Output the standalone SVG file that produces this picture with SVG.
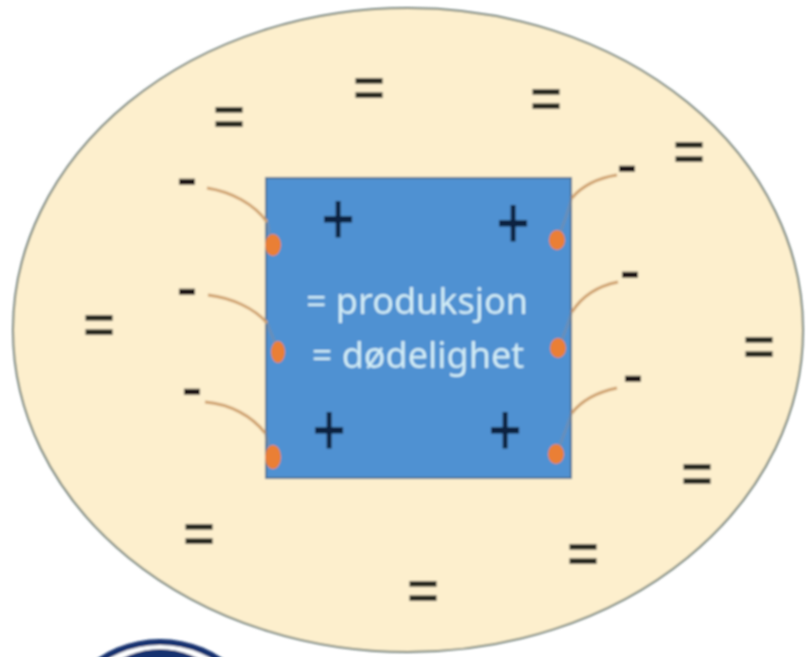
<svg xmlns="http://www.w3.org/2000/svg" width="806" height="657" viewBox="0 0 806 657">
<defs>
<filter id="soft" x="-5%" y="-5%" width="110%" height="110%"><feGaussianBlur stdDeviation="0.8"/></filter>
</defs>
<style>
text{font-family:"Liberation Sans",Arial,sans-serif;text-anchor:middle}
.eq{font-size:54px;font-weight:bold;fill:#2a2a22}
.minus{font-size:60px;fill:#1c1712;stroke:#1c1712;stroke-width:1.4}
.plus{font-size:56px;fill:#0b2140;stroke:#0b2140;stroke-width:.8}
.label{font-family:"Noto Sans","Open Sans",sans-serif;font-size:36px;fill:#d2edf6}
.wire{fill:none;stroke:#cfa26f;stroke-width:3}
.inner{fill:none;stroke:#b58a70;stroke-width:3;opacity:.25}
.dot{fill:#ea7f35}
</style>
<rect width="806" height="657" fill="#fff"/>
<g filter="url(#soft)">
<g id="cell-outer">
<ellipse cx="408" cy="330" rx="395" ry="322" fill="#fdefcd" stroke="#6f7f78" stroke-width="2"/>
</g>
<g id="cell-inner">
<rect x="266" y="178" width="305" height="300" fill="#5091d2" stroke="#4a7193" stroke-width="2"/>
<text class="label" x="417" y="314">= produksjon</text>
<text class="label" x="418" y="368">= dødelighet</text>
</g>
<g id="connectors">
<path class="wire" d="M207 188C232 192 254 204 267 222"/>
<path class="wire" d="M208 295C232 298 254 308 267 323"/>
<path class="wire" d="M205 402C230 404 252 416 265 433"/>
<path class="wire" d="M617 175C598 178 582 186 572 198"/>
<path class="wire" d="M618 282C598 286 582 296 572 312"/>
<path class="wire" d="M617 388C598 392 582 400 572 413"/>
<path class="inner" d="M267 222Q269 232 272 240"/>
<path class="inner" d="M267 323Q272 335 277 348"/>
<path class="inner" d="M265 433Q268 444 272 452"/>
<path class="inner" d="M572 198Q566 218 559 236"/>
<path class="inner" d="M572 312Q566 330 560 344"/>
<path class="inner" d="M572 413Q565 432 558 450"/>
</g>
<g id="channels-left">
<ellipse class="dot" cx="273" cy="245" rx="8" ry="11"/>
<ellipse class="dot" cx="278" cy="352" rx="7" ry="11"/>
<ellipse class="dot" cx="273" cy="457" rx="8" ry="12"/>
</g>
<g id="channels-right">
<ellipse class="dot" cx="557" cy="240" rx="8" ry="10"/>
<ellipse class="dot" cx="558" cy="348" rx="8" ry="10"/>
<ellipse class="dot" cx="556" cy="454" rx="8" ry="10"/>
</g>
<g id="plus-charges">
<text class="plus" transform="translate(338 219) scale(1 1.28)" y="19">+</text>
<text class="plus" transform="translate(329 430) scale(1 1.28)" y="19">+</text>
<text class="plus" transform="translate(513 223) scale(1 1.28)" y="19">+</text>
<text class="plus" transform="translate(505 430) scale(1 1.28)" y="19">+</text>
</g>
<g id="minus-charges">
<text class="minus" x="187" y="197">-</text>
<text class="minus" x="187" y="307">-</text>
<text class="minus" x="192" y="407">-</text>
<text class="minus" x="627" y="184">-</text>
<text class="minus" x="630" y="290">-</text>
<text class="minus" x="633" y="394">-</text>
</g>
<g id="neutral-charges">
<text class="eq" x="229" y="135">=</text>
<text class="eq" x="369" y="106">=</text>
<text class="eq" x="546" y="117">=</text>
<text class="eq" x="689" y="170">=</text>
<text class="eq" x="99" y="343">=</text>
<text class="eq" x="759" y="365">=</text>
<text class="eq" x="697" y="492">=</text>
<text class="eq" x="583" y="572">=</text>
<text class="eq" x="423" y="609">=</text>
<text class="eq" x="199" y="552">=</text>
</g>
<g id="logo-fragment">
<circle cx="160" cy="751" r="112" fill="#13306f"/>
<circle cx="160" cy="750" r="105" fill="#fff"/>
<circle cx="160" cy="729" r="80" fill="#13306f"/>
</g>
</g>
</svg>
